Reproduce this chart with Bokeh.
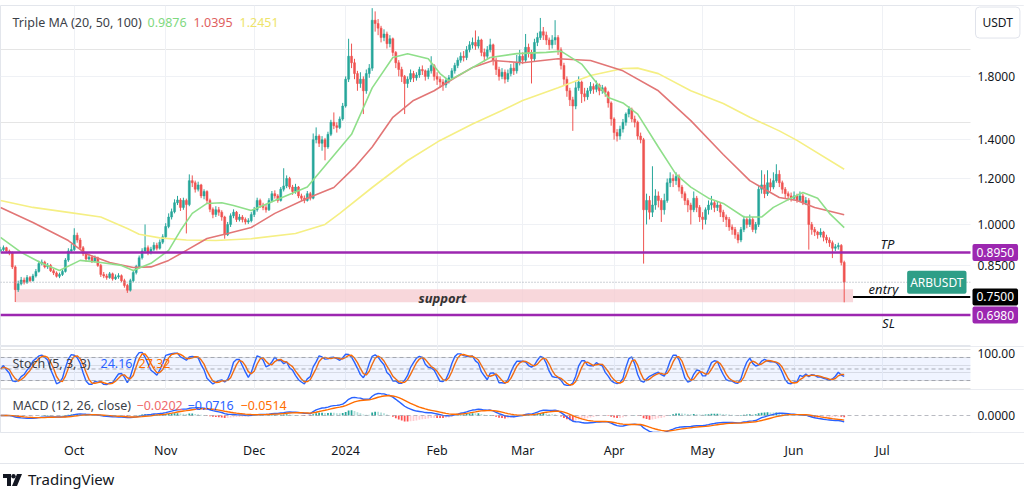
import numpy as np
import pandas as pd
from bokeh.plotting import figure
from bokeh.layouts import column
from bokeh.models import (ColumnDataSource, Range1d, FixedTicker, Span, BoxAnnotation, Label,
                          Grid, DatetimeTickFormatter, Div)
from bokeh.embed import file_html
from bokeh.resources import INLINE

FONT = "Noto Sans"

# ---------------- data ----------------
start_date = "2023-09-06"
first_open = 0.900
closes = [
    .905, .912, .900, .893, .845, .772, .790, .802, .795, .810,
    .800, .815, .830, .856, .861, .845, .850, .832, .825, .814,
    .820, .830, .868, .900, .905, .958, .940, .912, .890, .872,
    .878, .865, .876, .850, .820, .815, .810, .822, .806, .812,
    .816, .800, .785, .770, .800, .826, .846, .876, .900, .912,
    .895, .906, .921, .910, .932, .952, .992, 1.030, 1.052, 1.090,
    1.102, 1.070, 1.100, 1.082, 1.190, 1.180, 1.150, 1.170, 1.120, 1.140,
    1.100, 1.062, 1.040, 1.060, 1.050, 1.030, .960, 1.000, 1.035, 1.050,
    1.020, 1.030, 1.020, 1.010, 1.015, 1.040, 1.060, 1.100, 1.080, 1.070,
    1.060, 1.100, 1.130, 1.120, 1.100, 1.150, 1.165, 1.200, 1.160, 1.140,
    1.160, 1.120, 1.110, 1.100, 1.130, 1.110, 1.400, 1.420, 1.380, 1.400,
    1.360, 1.430, 1.500, 1.480, 1.470, 1.520, 1.600, 1.780, 1.950, 1.900,
    1.820, 1.750, 1.780, 1.700, 1.820, 1.860, 2.250, 2.220, 2.180, 2.100,
    2.130, 2.050, 2.090, 1.980, 1.900, 1.850, 1.800, 1.750, 1.780, 1.820,
    1.790, 1.810, 1.850, 1.840, 1.800, 1.840, 1.880, 1.800, 1.780, 1.760,
    1.740, 1.770, 1.790, 1.840, 1.880, 1.920, 1.950, 1.940, 2.000, 2.040,
    2.060, 2.030, 2.080, 1.980, 1.950, 2.000, 2.040, 1.920, 1.850, 1.800,
    1.830, 1.780, 1.820, 1.860, 1.840, 1.900, 1.950, 1.920, 2.020, 1.980,
    1.930, 2.060, 2.100, 2.150, 2.120, 2.080, 2.040, 2.080, 2.100, 2.000,
    1.880, 1.780, 1.700, 1.640, 1.600, 1.720, 1.760, 1.680, 1.660, 1.700,
    1.730, 1.710, 1.740, 1.700, 1.720, 1.690, 1.620, 1.520, 1.440, 1.420,
    1.460, 1.500, 1.550, 1.580, 1.520, 1.500, 1.420, 1.400, 1.060, 1.100,
    1.050, 1.080, 1.120, 1.100, 1.060, 1.100, 1.180, 1.200, 1.190, 1.210,
    1.160, 1.130, 1.100, 1.080, 1.060, 1.110, 1.070, 1.030, 1.020, 1.060,
    1.080, 1.090, 1.070, 1.080, 1.050, 1.030, 1.020, 0.990, 0.980, 0.960,
    0.940, 0.980, 1.020, 1.000, 1.020, 0.980, 1.000, 1.150, 1.170, 1.130,
    1.180, 1.160, 1.190, 1.220, 1.180, 1.150, 1.130, 1.120, 1.110, 1.120,
    1.100, 1.120, 1.090, 1.100, 1.000, 0.980, 0.970, 0.960, 0.970, 0.950,
    0.940, 0.930, 0.910, 0.915, 0.920, 0.860, 0.795,
]
highs = [
    .915, .920, .915, .905, .898, .850, .800, .812, .810, .818,
    .815, .822, .838, .866, .870, .866, .858, .855, .838, .830,
    .826, .836, .875, .910, .925, .985, .968, .948, .918, .895,
    .888, .885, .884, .880, .855, .828, .822, .828, .826, .820,
    .824, .820, .806, .790, .806, .832, .852, .884, .910, 1.000,
    .920, .915, .932, .930, .942, .962, 1.005, 1.045, 1.065, 1.105,
    1.120, 1.110, 1.112, 1.108, 1.220, 1.215, 1.190, 1.185, 1.175, 1.150,
    1.145, 1.108, 1.070, 1.075, 1.072, 1.058, 1.035, 1.010, 1.045, 1.062,
    1.055, 1.042, 1.038, 1.028, 1.025, 1.050, 1.072, 1.112, 1.108, 1.090,
    1.082, 1.110, 1.142, 1.145, 1.128, 1.160, 1.250, 1.215, 1.208, 1.170,
    1.175, 1.165, 1.130, 1.122, 1.142, 1.138, 1.435, 1.470, 1.430, 1.420,
    1.410, 1.445, 1.515, 1.560, 1.500, 1.535, 1.620, 1.800, 2.090, 2.050,
    1.930, 1.840, 1.830, 1.800, 1.850, 1.890, 2.360, 2.330, 2.260, 2.200,
    2.170, 2.150, 2.120, 2.100, 1.990, 1.920, 1.870, 1.810, 1.800, 1.850,
    1.840, 1.830, 1.870, 1.880, 1.850, 1.860, 1.950, 1.890, 1.830, 1.800,
    1.780, 1.790, 1.810, 1.860, 1.900, 1.940, 1.980, 1.990, 2.030, 2.070,
    2.100, 2.160, 2.110, 2.090, 2.010, 2.030, 2.090, 2.050, 1.940, 1.870,
    1.860, 1.850, 1.850, 1.890, 1.900, 1.960, 2.000, 1.980, 2.130, 2.050,
    2.000, 2.090, 2.140, 2.270, 2.190, 2.150, 2.100, 2.120, 2.250, 2.120,
    2.020, 1.900, 1.800, 1.720, 1.660, 1.760, 1.800, 1.770, 1.720, 1.720,
    1.760, 1.750, 1.770, 1.750, 1.740, 1.730, 1.700, 1.630, 1.530, 1.460,
    1.480, 1.520, 1.560, 1.600, 1.590, 1.540, 1.510, 1.440, 1.410, 1.130,
    1.120, 1.260, 1.150, 1.140, 1.110, 1.130, 1.200, 1.230, 1.220, 1.230,
    1.220, 1.170, 1.140, 1.110, 1.090, 1.140, 1.120, 1.080, 1.050, 1.070,
    1.100, 1.120, 1.100, 1.095, 1.090, 1.060, 1.040, 1.030, 1.000, 0.990,
    0.970, 0.990, 1.035, 1.030, 1.040, 1.030, 1.010, 1.170, 1.240, 1.220,
    1.240, 1.200, 1.230, 1.270, 1.240, 1.190, 1.160, 1.140, 1.135, 1.140,
    1.130, 1.140, 1.130, 1.115, 1.110, 1.010, 0.990, 0.975, 0.985, 0.975,
    0.960, 0.950, 0.938, 0.925, 0.930, 0.925, 0.866,
]
lows = [
    .895, .900, .893, .885, .838, .735, .765, .785, .788, .790,
    .795, .797, .810, .826, .850, .840, .838, .828, .818, .810,
    .808, .815, .826, .862, .893, .900, .930, .905, .882, .862,
    .866, .858, .860, .845, .812, .808, .803, .806, .800, .802,
    .806, .795, .778, .762, .766, .795, .820, .840, .870, .892,
    .885, .888, .900, .902, .905, .925, .945, .985, 1.020, 1.045,
    1.080, 1.055, 1.060, .965, 1.075, 1.160, 1.135, 1.140, 1.110, 1.105,
    1.085, 1.050, 1.025, 1.030, 1.035, 1.015, .945, .955, .990, 1.025,
    1.010, 1.012, 1.008, 1.000, 1.002, 1.008, 1.030, 1.052, 1.068, 1.058,
    1.048, 1.055, 1.092, 1.108, 1.090, 1.095, 1.140, 1.155, 1.150, 1.125,
    1.130, 1.110, 1.098, 1.088, 1.095, 1.100, 1.105, 1.380, 1.360, 1.340,
    1.290, 1.350, 1.420, 1.460, 1.440, 1.460, 1.510, 1.590, 1.760, 1.860,
    1.780, 1.700, 1.720, 1.550, 1.680, 1.790, 1.840, 2.150, 2.120, 2.060,
    2.070, 2.010, 2.020, 1.950, 1.860, 1.800, 1.760, 1.550, 1.720, 1.760,
    1.760, 1.770, 1.790, 1.810, 1.770, 1.780, 1.820, 1.770, 1.740, 1.720,
    1.700, 1.720, 1.750, 1.780, 1.820, 1.860, 1.900, 1.910, 1.920, 1.980,
    2.010, 2.000, 2.010, 1.950, 1.910, 1.930, 1.980, 1.880, 1.810, 1.770,
    1.780, 1.750, 1.760, 1.800, 1.810, 1.820, 1.880, 1.890, 1.900, 1.940,
    1.750, 1.910, 2.030, 2.080, 2.080, 2.040, 2.000, 2.010, 2.040, 1.960,
    1.850, 1.740, 1.660, 1.600, 1.450, 1.580, 1.700, 1.620, 1.630, 1.640,
    1.680, 1.680, 1.690, 1.670, 1.680, 1.660, 1.590, 1.480, 1.400, 1.390,
    1.400, 1.440, 1.480, 1.530, 1.500, 1.470, 1.400, 1.380, 0.856, 1.000,
    1.020, 1.030, 1.060, 1.070, 1.010, 1.040, 1.090, 1.160, 1.160, 1.170,
    1.140, 1.110, 1.080, 1.050, 1.000, 1.050, 1.050, 1.010, 0.980, 1.000,
    1.040, 1.060, 1.050, 1.055, 1.030, 1.010, 0.990, 0.975, 0.960, 0.945,
    0.928, 0.932, 0.970, 0.985, 0.990, 0.970, 0.965, 0.990, 1.130, 1.110,
    1.120, 1.140, 1.150, 1.180, 1.160, 1.130, 1.110, 1.100, 1.095, 1.100,
    1.090, 1.095, 1.080, 1.080, 0.905, 0.960, 0.955, 0.945, 0.950, 0.935,
    0.928, 0.915, 0.875, 0.900, 0.905, 0.850, 0.734,
]

ma20_dates = ["2023-09-06", "2023-09-13", "2023-09-20", "2023-09-26", "2023-10-03", "2023-10-10",
              "2023-10-17", "2023-10-21", "2023-10-27", "2023-11-02", "2023-11-06", "2023-11-10",
              "2023-11-15", "2023-11-20", "2023-11-24", "2023-11-30", "2023-12-08", "2023-12-19",
              "2024-01-03", "2024-01-10", "2024-01-17", "2024-01-22", "2024-01-29", "2024-02-02",
              "2024-02-05", "2024-02-11", "2024-02-19", "2024-02-28", "2024-03-09", "2024-03-14",
              "2024-03-21", "2024-03-30", "2024-04-04", "2024-04-09", "2024-04-16", "2024-04-22",
              "2024-04-27", "2024-05-03", "2024-05-08", "2024-05-15", "2024-05-21", "2024-05-25",
              "2024-05-31", "2024-06-04", "2024-06-09", "2024-06-13", "2024-06-18"]
ma20_values = [0.95, 0.895, 0.857, 0.833, 0.867, 0.86, 0.85, 0.833, 0.857, 0.902, 0.976, 1.045,
               1.087, 1.09, 1.078, 1.057, 1.10, 1.16, 1.43, 1.72, 1.94, 1.97, 1.93, 1.82,
               1.77, 1.84, 1.94, 1.97, 1.98, 1.99, 1.89, 1.655, 1.62, 1.55, 1.36, 1.22,
               1.16, 1.11, 1.087, 1.03, 1.03, 1.07, 1.11, 1.135, 1.11, 1.045, 0.9876]

ma50_dates = ["2023-09-06", "2023-09-17", "2023-09-29", "2023-10-05", "2023-10-13", "2023-10-21",
              "2023-10-27", "2023-11-02", "2023-11-08", "2023-11-15", "2023-11-22", "2023-11-30",
              "2023-12-08", "2023-12-19", "2023-12-28", "2024-01-04", "2024-01-10", "2024-01-17",
              "2024-01-24", "2024-01-31", "2024-02-07", "2024-02-13", "2024-02-20", "2024-03-01",
              "2024-03-13", "2024-03-24", "2024-04-04", "2024-04-16", "2024-04-27", "2024-05-08",
              "2024-05-17", "2024-05-21", "2024-05-27", "2024-06-02", "2024-06-08", "2024-06-18"]
ma50_values = [1.07, 1.008, 0.938, 0.89, 0.86, 0.843, 0.845, 0.867, 0.902, 0.946, 0.965, 0.988,
               1.045, 1.11, 1.158, 1.254, 1.36, 1.53, 1.636, 1.70, 1.79, 1.865, 1.917, 1.90,
               1.93, 1.917, 1.84, 1.70, 1.51, 1.32, 1.19, 1.158, 1.113, 1.10, 1.07, 1.0395]

ma100_dates = ["2023-09-06", "2023-09-17", "2023-09-29", "2023-10-10", "2023-10-19", "2023-10-23",
               "2023-10-30", "2023-11-08", "2023-11-18", "2023-11-30", "2023-12-15", "2023-12-25",
               "2023-12-30", "2024-01-10", "2024-01-22", "2024-02-02", "2024-02-13", "2024-02-23",
               "2024-03-01", "2024-03-13", "2024-03-24", "2024-04-04", "2024-04-09", "2024-04-16",
               "2024-04-27", "2024-05-08", "2024-05-17", "2024-05-27", "2024-06-02", "2024-06-18"]
ma100_values = [1.10, 1.07, 1.049, 1.03, 0.984, 0.962, 0.948, 0.94, 0.938, 0.945, 0.965, 1.0,
                1.045, 1.158, 1.289, 1.396, 1.49, 1.572, 1.636, 1.72, 1.806, 1.857, 1.86, 1.82,
                1.70, 1.616, 1.53, 1.45, 1.396, 1.2451]

ma_legend_values = ["0.9876", "1.0395", "1.2451"]
stoch_legend_values = ["24.16", "27.32"]
macd_legend_values = ["\u22120.0202", "\u22120.0716", "\u22120.0514"]

tp_price = 0.895
entry_price = 0.750
sl_price = 0.698
support_low = 0.734
support_high = 0.773
support_start = "2023-09-11"
zone_end = "2024-06-21"

month_ticks = ["2023-10-01", "2023-11-01", "2023-12-01", "2024-01-01", "2024-02-01",
               "2024-03-01", "2024-04-01", "2024-05-01", "2024-06-01", "2024-07-01"]
month_labels = ["Oct", "Nov", "Dec", "2024", "Feb", "Mar", "Apr", "May", "Jun", "Jul"]
price_ticks = [0.85, 1.0, 1.2, 1.4, 1.8]

# ---------------- derived tables ----------------
def ms(s):
    return pd.Timestamp(s).value / 1e6

DAY = 86400000
dates = pd.date_range(start_date, periods=len(closes), freq="D")
opens = [first_open] + closes[:-1]
df = pd.DataFrame({"date": dates, "open": opens, "high": highs, "low": lows, "close": closes})
df["top"] = df[["open", "close"]].max(axis=1)
df["bottom"] = df[["open", "close"]].min(axis=1)
UP, DOWN = "#26a69a", "#ef5350"
df["color"] = np.where(df["close"] >= df["open"], UP, DOWN)

ll = df["low"].rolling(5, min_periods=1).min()
hh = df["high"].rolling(5, min_periods=1).max()
k_raw = 100 * (df["close"] - ll) / (hh - ll)
k_line = k_raw.rolling(3, min_periods=1).mean()
d_line = k_line.rolling(3, min_periods=1).mean()

ema12 = df["close"].ewm(span=12, adjust=False).mean()
ema26 = df["close"].ewm(span=26, adjust=False).mean()
macd = ema12 - ema26
signal = macd.ewm(span=9, adjust=False).mean()
hist = macd - signal
prev = hist.shift(1).fillna(0)
hist_colors = np.where(hist >= 0, np.where(hist >= prev, "#26a69a", "#b2dfdb"),
                       np.where(hist < prev, "#ff5252", "#ffcdd2"))

# ---------------- layout constants ----------------
W = 1024
SCALE_X = 970          # left edge of the price scale, in pixels
PX_PER_DAY = 2.95
x_start = ms(start_date)
x_end = x_start + W / PX_PER_DAY * DAY
scale_start = x_start + SCALE_X / PX_PER_DAY * DAY
x_range = Range1d(x_start, x_end)
GRID = "#eff1f5"
TXT = "#131722"
LEG = "#3c3f48"
PURPLE = "#9c27b0"
month_ms = [ms(m) for m in month_ticks]


def base_fig(frame_height, **kw):
    f = figure(x_axis_type="datetime", x_range=x_range, toolbar_location=None, output_backend="svg",
               frame_width=W, frame_height=frame_height, min_border_left=0, min_border_right=0,
               y_axis_location=None, background_fill_color="white", border_fill_color="white",
               outline_line_color="#e3e6ec", **kw)
    f.add_layout(Grid(dimension=0, ticker=FixedTicker(ticks=month_ms), grid_line_color=GRID))
    return f


def note(fig, x, y, text, color=TXT, size="12.5px", style="normal", align="left",
         baseline="middle", **kw):
    fig.add_layout(Label(x=x, y=y, x_units="screen", y_units="data", text=text, text_color=color,
                         text_font=FONT, text_font_size=size, text_font_style=style,
                         text_align=align, text_baseline=baseline, **kw))


def note_d(fig, x, y, text, color=TXT, size="13px", style="italic"):
    fig.add_layout(Label(x=x, y=y, x_units="data", y_units="data", text=text, text_color=color,
                         text_font=FONT, text_font_size=size, text_font_style=style,
                         text_align="center", text_baseline="middle"))


def scale_cover(fig):
    fig.add_layout(BoxAnnotation(left=scale_start, fill_color="white", fill_alpha=1.0,
                                 line_color=None))

# ---------------- main price pane ----------------
p = base_fig(341, y_axis_type="log", y_range=Range1d(0.616, 2.385), x_axis_location=None,
             min_border_top=5, min_border_bottom=0)
p.add_layout(Grid(dimension=1, ticker=FixedTicker(ticks=price_ticks), grid_line_color=GRID))

p.add_layout(BoxAnnotation(left=ms(support_start), right=ms(zone_end), bottom=support_low,
                           top=support_high, fill_color="#f6c9cf", fill_alpha=0.75, line_color=None,
                           level="underlay"))
p.add_layout(Span(location=closes[-1], dimension="width", line_color="#9aa3ad", line_dash="1 2",
                  line_width=1))

src = ColumnDataSource(df)
p.segment(x0="date", y0="low", x1="date", y1="high", color="color", line_width=1, source=src)
p.vbar(x="date", width=0.68 * DAY, top="top", bottom="bottom", fill_color="color", line_color="color",
       line_width=0.5, source=src)

p.line(pd.to_datetime(ma100_dates), ma100_values, color="#f5ef84", line_width=1.6)
p.line(pd.to_datetime(ma50_dates), ma50_values, color="#e27676", line_width=1.6)
p.line(pd.to_datetime(ma20_dates), ma20_values, color="#8fdf8a", line_width=1.6)

p.add_layout(Span(location=tp_price, dimension="width", line_color=PURPLE, line_width=2.5))
p.add_layout(Span(location=sl_price, dimension="width", line_color=PURPLE, line_width=2.5))
p.segment(x0=[ms(zone_end)], y0=[entry_price], x1=[scale_start], y1=[entry_price],
          line_color="black", line_width=2)

ylab = 2.229
note(p, 12, ylab, "Triple MA (20, 50, 100)", color=LEG)
note(p, 147, ylab, ma_legend_values[0], color="#7fd97f")
note(p, 193, ylab, ma_legend_values[1], color="#e06060")
note(p, 239, ylab, ma_legend_values[2], color="#eee46a")

note_d(p, x_start + 149.8 * DAY, 0.746, "support", color="#333333", style="bold italic")
note_d(p, ms("2024-07-02 16:00"), 0.924, "TP")
note_d(p, ms("2024-07-01 07:00"), 0.773, "entry")
note_d(p, ms("2024-07-03"), 0.675, "SL")

note(p, 966, closes[-1], "ARBUSDT", color="white", size="12px", align="right",
     background_fill_color="#2e9e87", padding=3, border_radius=2)

# price scale
scale_cover(p)
for t in price_ticks:
    note(p, 977, t, f"{t:.4f}", size="12px")
note(p, 972, tp_price, f"{tp_price:.4f}", color="white", size="12px", background_fill_color=PURPLE,
     padding=4, border_radius=2)
note(p, 972, entry_price, f"{entry_price:.4f}", color="white", size="12px",
     background_fill_color="black", padding=4, border_radius=2)
note(p, 972, sl_price, f"{sl_price:.4f}", color="white", size="12px", background_fill_color=PURPLE,
     padding=4, border_radius=2)
note(p, 975, ylab, "USDT", color=TXT, size="12px", background_fill_color="white",
     border_line_color="#e0e3eb", padding=7, border_radius=4)

# ---------------- stochastic pane ----------------
s = base_fig(43, y_range=Range1d(-3.4, 108.6), x_axis_location=None, min_border_top=0,
             min_border_bottom=0)
s.add_layout(BoxAnnotation(bottom=20, top=80, fill_color="#2962ff", fill_alpha=0.07, line_color=None))
for lvl in (80, 50, 20):
    s.add_layout(Span(location=lvl, dimension="width", line_color="#8a8e99", line_dash="4 3",
                      line_width=1, line_alpha=0.7))
s.line(dates, k_line, color="#2962ff", line_width=1.4)
s.line(dates, d_line, color="#ff6d00", line_width=1.4)
note(s, 12, 64.3, "Stoch (5, 3, 3)", color=LEG)
note(s, 100, 64.3, stoch_legend_values[0], color="#2962ff")
note(s, 138, 64.3, stoch_legend_values[1], color="#ff6d00")
scale_cover(s)
note(s, 977, 90, "100.00", size="12px")

# ---------------- MACD pane ----------------
mx = float(macd.max())
m = base_fig(43, y_range=Range1d(-mx * 17 / 22, mx * 26 / 22), x_axis_location="below",
             min_border_top=0, min_border_bottom=31)
m.ygrid.visible = False
m.xgrid.visible = False
m.add_layout(Span(location=0, dimension="width", line_color="#8a8e99", line_dash="4 3",
                  line_width=1, line_alpha=0.6))
m.vbar(x=dates, top=hist.values, bottom=0, width=0.6 * DAY, fill_color=hist_colors,
       line_color=None)
m.line(dates, macd, color="#2962ff", line_width=1.4)
m.line(dates, signal, color="#ff6d00", line_width=1.4)
m.xaxis.ticker = FixedTicker(ticks=month_ms)
m.xaxis.formatter = DatetimeTickFormatter(months="%b", days="%b")
m.xaxis.major_label_overrides = {int(t): lab for t, lab in zip(month_ms, month_labels)}
m.xaxis.axis_line_color = "#e3e6ec"
m.xaxis.major_tick_line_color = None
m.xaxis.minor_tick_line_color = None
m.xaxis.major_tick_out = 0
m.xaxis.major_label_standoff = 9
m.xaxis.major_label_text_font = FONT
m.xaxis.major_label_text_font_size = "12.5px"
m.xaxis.major_label_text_color = TXT
my = mx * 10 / 22
note(m, 12, my, "MACD (12, 26, close)", color=LEG)
note(m, 136, my, macd_legend_values[0], color="#ef6a6a")
note(m, 187, my, macd_legend_values[1], color="#2962ff")
note(m, 240, my, macd_legend_values[2], color="#ff6d00")
scale_cover(m)
note(m, 977, 0, "0.0000", size="12px")

logo = Div(text=(
    '<div style="display:flex;align-items:center;gap:6px;font-family:\'Noto Sans\';'
    'font-size:15px;color:#131722;height:17px;margin-top:7px;padding-left:3px">'
    '<svg width="19" height="12" viewBox="0 0 19 12"><path d="M0 0h8v12H4V4H0z" fill="#131722"/>'
    '<circle cx="10.5" cy="2.2" r="2.2" fill="#131722"/>'
    '<path d="M14 0h5l-5 12h-5z" fill="#131722"/></svg><span>TradingView</span></div>'),
    width=W, height=25, margin=(0, 0, 0, 0),
    styles={"border-top": "1px solid #e3e6ec"})

layout = column(p, s, m, logo, spacing=0)
with open("out.html", "w") as fh:
    fh.write(file_html(layout, INLINE))
